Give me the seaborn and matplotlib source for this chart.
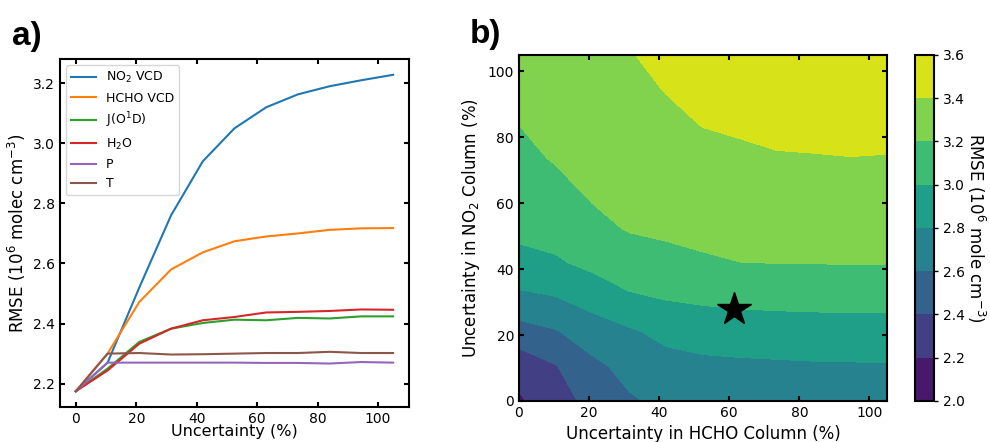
import matplotlib
matplotlib.use("Agg")
import matplotlib.pyplot as plt
import numpy as np
import pandas as pd
import seaborn as sns

# panel a: RMSE vs uncertainty of each input
uncertainty = [0, 10.5, 21, 31.5, 42, 52.5, 63, 73.5, 84, 94.5, 105]
rmse_no2 = [2.175, 2.27, 2.52, 2.76, 2.94, 3.05, 3.12, 3.163, 3.19, 3.21, 3.228]
rmse_hcho = [2.175, 2.30, 2.472, 2.58, 2.637, 2.674, 2.69, 2.70, 2.712, 2.717, 2.718]
rmse_jo1d = [2.175, 2.25, 2.339, 2.383, 2.402, 2.413, 2.411, 2.419, 2.417, 2.424, 2.424]
rmse_h2o = [2.175, 2.244, 2.333, 2.383, 2.411, 2.422, 2.437, 2.439, 2.442, 2.447, 2.446]
rmse_p = [2.175, 2.27, 2.27, 2.27, 2.27, 2.27, 2.269, 2.269, 2.267, 2.272, 2.27]
rmse_t = [2.175, 2.30, 2.302, 2.297, 2.298, 2.30, 2.302, 2.302, 2.306, 2.302, 2.302]
series_names = ["NO$_2$ VCD", "HCHO VCD", "J(O$^1$D)", "H$_2$O", "P", "T"]

# panel b: RMSE grid, rows = NO2 uncertainty, columns = HCHO uncertainty
hcho_unc = [0, 10.5, 21, 31.5, 42, 52.5, 63, 73.5, 84, 94.5, 105]
no2_unc = [0, 10.5, 21, 31.5, 42, 52.5, 63, 73.5, 84, 94.5, 105]
rmse_grid = [
    [2.175, 2.300, 2.472, 2.580, 2.637, 2.674, 2.690, 2.700, 2.712, 2.717, 2.718],
    [2.270, 2.390, 2.558, 2.654, 2.733, 2.758, 2.767, 2.773, 2.780, 2.783, 2.784],
    [2.520, 2.586, 2.695, 2.774, 2.850, 2.881, 2.894, 2.905, 2.912, 2.916, 2.918],
    [2.760, 2.796, 2.886, 2.976, 3.014, 3.037, 3.053, 3.061, 3.065, 3.068, 3.069],
    [2.940, 2.978, 3.046, 3.118, 3.153, 3.180, 3.199, 3.203, 3.205, 3.207, 3.207],
    [3.050, 3.070, 3.155, 3.213, 3.229, 3.245, 3.256, 3.264, 3.266, 3.270, 3.269],
    [3.120, 3.150, 3.219, 3.249, 3.273, 3.298, 3.312, 3.324, 3.328, 3.333, 3.330],
    [3.163, 3.211, 3.252, 3.284, 3.318, 3.352, 3.368, 3.385, 3.390, 3.396, 3.392],
    [3.201, 3.241, 3.285, 3.319, 3.362, 3.405, 3.423, 3.446, 3.452, 3.459, 3.453],
    [3.215, 3.270, 3.317, 3.355, 3.406, 3.458, 3.479, 3.506, 3.513, 3.522, 3.515],
    [3.230, 3.300, 3.350, 3.390, 3.450, 3.510, 3.535, 3.567, 3.575, 3.585, 3.577],
]
star_point = (61.5, 28)
levels = [2.0, 2.2, 2.4, 2.6, 2.8, 3.0, 3.2, 3.4, 3.6]

plt.rcParams["axes.linewidth"] = 1.5
plt.rcParams["xtick.direction"] = "in"
plt.rcParams["ytick.direction"] = "in"
plt.rcParams["xtick.major.width"] = 1.5
plt.rcParams["ytick.major.width"] = 1.5
plt.rcParams["xtick.major.size"] = 3.5
plt.rcParams["ytick.major.size"] = 3.5
plt.rcParams["xtick.top"] = True
plt.rcParams["ytick.right"] = True

fig = plt.figure(figsize=(9.9, 4.42), dpi=100)
ax1 = fig.add_axes([0.0606, 0.0792, 0.3525, 0.7873])
ax2 = fig.add_axes([0.5242, 0.0928, 0.3717, 0.7828])
cax = fig.add_axes([0.9242, 0.0928, 0.0192, 0.7828])

# long table for seaborn
all_series = [rmse_no2, rmse_hcho, rmse_jo1d, rmse_h2o, rmse_p, rmse_t]
rows = []
for name, vals in zip(series_names, all_series):
    for u, v in zip(uncertainty, vals):
        rows.append({"uncertainty": u, "rmse": v, "input": name})
df = pd.DataFrame(rows)

sns.lineplot(data=df, x="uncertainty", y="rmse", hue="input", hue_order=series_names,
             palette=sns.color_palette("tab10", 6), linewidth=1.5, ax=ax1)
ax1.legend(loc="upper left", fontsize=9)
ax1.set_xticks([0, 20, 40, 60, 80, 100])
ax1.set_yticks([2.2, 2.4, 2.6, 2.8, 3.0, 3.2])
ax1.tick_params(labelsize=10)
ax1.set_xlabel("Uncertainty (%)", fontsize=11.5, labelpad=-1)
ax1.set_ylabel("RMSE (10$^6$ molec cm$^{-3}$)", fontsize=12)

# contour map
cs = ax2.contourf(hcho_unc, no2_unc, np.array(rmse_grid), levels=levels, cmap="viridis")
ax2.plot(star_point[0], star_point[1], marker="*", color="black", markersize=25)
ax2.set_xlim(0, 105)
ax2.set_ylim(0, 105)
ax2.set_xticks([0, 20, 40, 60, 80, 100])
ax2.set_yticks([0, 20, 40, 60, 80, 100])
ax2.tick_params(labelsize=10)
ax2.set_xlabel("Uncertainty in HCHO Column (%)", fontsize=12)
ax2.set_ylabel("Uncertainty in NO$_2$ Column (%)", fontsize=12)

cb = fig.colorbar(cs, cax=cax, ticks=levels)
cb.ax.tick_params(direction="out", labelsize=10, width=1, length=3, right=True, left=False)
cb.outline.set_linewidth(1.5)
cb.set_label("RMSE (10$^6$ mole cm$^{-3}$)", fontsize=12, rotation=270, labelpad=16)

fig.text(0.012, 0.898, "a)", fontsize=24, fontweight="bold", family="Liberation Sans")
fig.text(0.474, 0.902, "b)", fontsize=24, fontweight="bold", family="Liberation Sans")

fig.savefig("out.png", dpi=100)
